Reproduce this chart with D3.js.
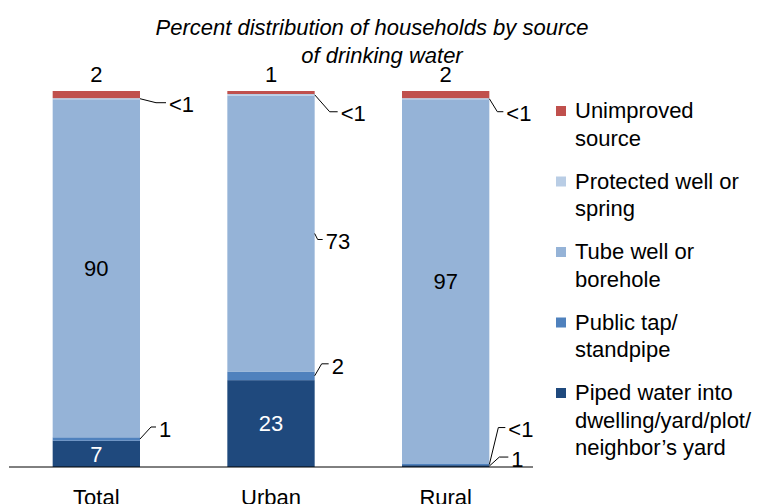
<!DOCTYPE html>
<html>
<head>
<meta charset="utf-8">
<script src="https://cdn.jsdelivr.net/npm/d3@7"></script>
<style>
  body { margin: 0; background: #fff; }
  svg { font-family: "Liberation Sans", Arial, sans-serif; }
</style>
</head>
<body>
<div id="chart"></div>
<script>
"use strict"

// Data (percent of households), stacked bottom -> top
const categories = ["Total", "Urban", "Rural"];
const seriesKeys = ["piped", "publicTap", "tubeWell", "protectedWell", "unimproved"];

const piped         = [7.0, 23.1, 0.5];
const publicTap     = [0.9,  2.3, 0.3];
const tubeWell      = [89.9, 73.4, 97.0];
const protectedWell = [0.3,  0.4, 0.3];
const unimproved    = [1.9,  0.8, 1.9];

// Printed labels
const pipedLabels      = ["7", "23", "1"];
const publicLabels     = ["1", "2", "<1"];
const tubeLabels       = ["90", "73", "97"];
const protectedLabels  = ["<1", "<1", "<1"];
const unimprovedLabels = ["2", "1", "2"];

const legendNames = [
  ["Unimproved", "source"],
  ["Protected well or", "spring"],
  ["Tube well or", "borehole"],
  ["Public tap/", "standpipe"],
  ["Piped water into", "dwelling/yard/plot/", "neighbor\u2019s yard"]
];

const titleLines = ["Percent distribution of households by source", "of drinking water"];

// Build table for d3.stack
const table = categories.map((c, i) => ({
  cat: c,
  piped: piped[i],
  publicTap: publicTap[i],
  tubeWell: tubeWell[i],
  protectedWell: protectedWell[i],
  unimproved: unimproved[i]
}));

const labelText = {
  piped: pipedLabels,
  publicTap: publicLabels,
  tubeWell: tubeLabels,
  protectedWell: protectedLabels,
  unimproved: unimprovedLabels
};

const colors = {
  piped: "#1F497D",
  publicTap: "#4F81BD",
  tubeWell: "#95B3D7",
  protectedWell: "#B9CDE5",
  unimproved: "#C0504D"
};

// Label placement: "in" = centred inside, "top" = above the bar,
// [dx, dy, h] = leader line from the bar edge (bend offset, horizontal length)
const placement = {
  piped:         ["in", "in", [10, -9, 9]],
  publicTap:     [[11, -12, 5], [7, -12, 7], [9, -37, 7]],
  tubeWell:      ["in", [3, 6, 5], "in"],
  protectedWell: [[16, 4, 10], [15, 17, 8], [8, 13, 6]],
  unimproved:    ["top", "top", "top"]
};

const width = 765, height = 504;
const fontSize = 22;

const svg = d3.select("#chart").append("svg")
  .attr("width", width)
  .attr("height", height);

const x = d3.scaleBand()
  .domain(categories)
  .range([9, 533])
  .paddingInner(0.5)
  .paddingOuter(0.25);

const y = d3.scaleLinear()
  .domain([0, 100])
  .range([467, 91]);

const stacked = d3.stack().keys(seriesKeys)(table);

// Bars
svg.append("g")
  .selectAll("g")
  .data(stacked)
  .join("g")
    .attr("fill", d => colors[d.key])
  .selectAll("rect")
  .data(d => d)
  .join("rect")
    .attr("x", d => x(d.data.cat))
    .attr("y", d => y(d[1]))
    .attr("width", x.bandwidth())
    .attr("height", d => y(d[0]) - y(d[1]));

// Baseline
svg.append("line")
  .attr("x1", x.range()[0])
  .attr("x2", x.range()[1])
  .attr("y1", y(0))
  .attr("y2", y(0))
  .attr("stroke", "#000")
  .attr("stroke-width", 1);

// Category labels
svg.append("g")
  .selectAll("text")
  .data(categories)
  .join("text")
    .attr("x", d => x(d) + x.bandwidth() / 2)
    .attr("y", 505)
    .attr("text-anchor", "middle")
    .attr("font-size", fontSize)
    .attr("fill", "#000")
    .text(d => d);

// Value labels
const labels = svg.append("g");
stacked.forEach(layer => {
  const key = layer.key;
  layer.forEach((seg, i) => {
    const cat = seg.data.cat;
    const text = labelText[key][i];
    const mode = placement[key][i];
    const cx = x(cat) + x.bandwidth() / 2;
    const midY = (y(seg[0]) + y(seg[1])) / 2;

    if (mode === "in") {
      labels.append("text")
        .attr("x", cx)
        .attr("y", midY)
        .attr("dy", "0.35em")
        .attr("text-anchor", "middle")
        .attr("font-size", fontSize)
        .attr("fill", key === "piped" ? "#fff" : "#000")
        .text(text);
    } else if (mode === "top") {
      labels.append("text")
        .attr("x", cx)
        .attr("y", y(100) - 9)
        .attr("text-anchor", "middle")
        .attr("font-size", fontSize)
        .attr("fill", "#000")
        .text(text);
    } else {
      const [dx, dy, h] = mode;
      const x0 = x(cat) + x.bandwidth();
      const bx = x0 + dx, by = midY + dy;
      labels.append("path")
        .attr("d", `M${x0},${midY}L${bx},${by}L${bx + h},${by}`)
        .attr("fill", "none")
        .attr("stroke", "#000")
        .attr("stroke-width", 1);
      labels.append("text")
        .attr("x", bx + h + 3)
        .attr("y", by + 2)
        .attr("dy", "0.35em")
        .attr("font-size", fontSize)
        .attr("fill", "#000")
        .text(text);
    }
  });
});

// Title
svg.append("text")
  .attr("font-size", fontSize)
  .attr("font-style", "italic")
  .attr("text-anchor", "middle")
  .attr("fill", "#000")
  .selectAll("tspan")
  .data(titleLines)
  .join("tspan")
    .attr("x", (d, i) => i === 0 ? 372 : 382)
    .attr("y", (d, i) => 35 + i * 28)
    .text(d => d);

// Legend (top -> bottom is reverse of stack order)
const legendKeys = seriesKeys.slice().reverse();
const legend = svg.append("g")
  .selectAll("g")
  .data(legendKeys)
  .join("g")
    .attr("transform", (d, i) => `translate(556, ${118 + i * 70.5})`);

legend.append("rect")
  .attr("x", 0)
  .attr("y", -12)
  .attr("width", 10)
  .attr("height", 10)
  .attr("fill", d => colors[d]);

legend.append("text")
  .attr("font-size", fontSize)
  .attr("fill", "#000")
  .selectAll("tspan")
  .data((d, i) => legendNames[i])
  .join("tspan")
    .attr("x", 19)
    .attr("y", (d, j) => j * 27.5)
    .text(d => d);
</script>
</body>
</html>
